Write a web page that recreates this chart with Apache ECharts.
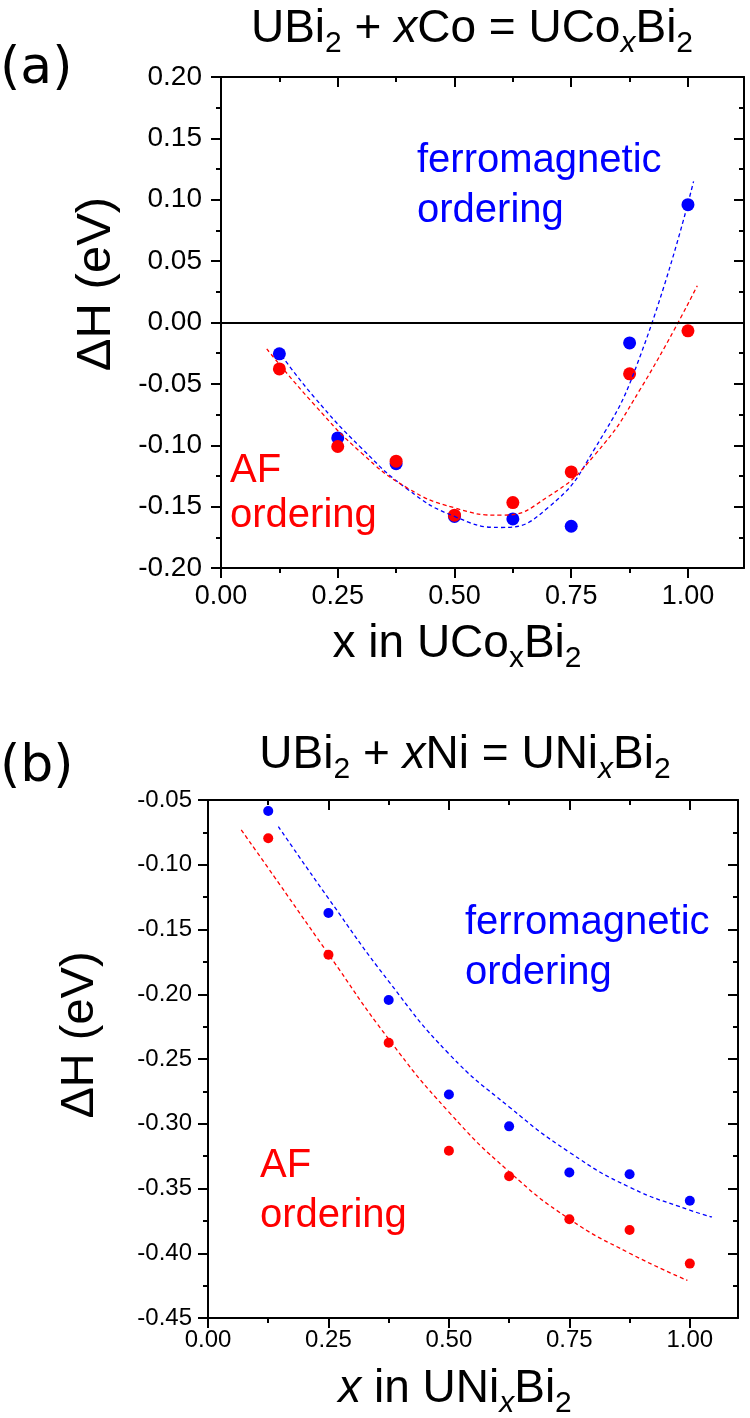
<!DOCTYPE html>
<html>
<head>
<meta charset="utf-8">
<script src="https://cdn.jsdelivr.net/npm/echarts@6/dist/echarts.min.js"></script>
<style>
html, body { margin: 0; padding: 0; background: #fff; }
#main { width: 750px; height: 1418px; }
</style>
</head>
<body>
<div id="main"></div>
<script>
// composition x of the computed points
var xValues = [0.125, 0.25, 0.375, 0.5, 0.625, 0.75, 0.875, 1.0];

// (a) UCoxBi2, formation enthalpy in eV
var coFerro = [-0.0255, -0.094, -0.115, -0.158, -0.160, -0.166, -0.0166, 0.096];
var coAF = [-0.0378, -0.101, -0.113, -0.157, -0.1467, -0.1217, -0.0418, -0.0068];

// (b) UNixBi2
var niFerro = [-0.0585, -0.1372, -0.2044, -0.2774, -0.302, -0.3377, -0.339, -0.3595];
var niAF = [-0.0795, -0.1695, -0.2374, -0.3208, -0.3405, -0.3738, -0.382, -0.408];

// dashed fit curves
var coFerroFitX = [0.13, 0.2, 0.3, 0.4, 0.5, 0.6, 0.7, 0.8, 0.9, 1.012];
var coFerroFitY = [-0.027, -0.061, -0.102, -0.136, -0.158, -0.167, -0.151, -0.103, -0.025, 0.115];
var coAFFitX = [0.098, 0.2, 0.3, 0.4, 0.5, 0.6, 0.7, 0.8, 0.9, 1.02];
var coAFFitY = [-0.0215, -0.067, -0.106, -0.135, -0.151, -0.157, -0.142, -0.108, -0.053, 0.030];
var niFerroFitX = [0.146, 0.25, 0.375, 0.5, 0.625, 0.75, 0.875, 1.0, 1.046];
var niFerroFitY = [-0.0705, -0.126, -0.19, -0.246, -0.287, -0.322, -0.349, -0.3667, -0.372];
var niAFFitX = [0.069, 0.125, 0.25, 0.375, 0.5, 0.625, 0.75, 0.875, 0.995];
var niAFFitY = [-0.0731, -0.1026, -0.169, -0.2346, -0.291, -0.337, -0.3736, -0.400, -0.421];

// ticks
var xMajorTicks = [0, 0.25, 0.5, 0.75, 1.0];
var xMinorTicks = [0.125, 0.375, 0.625, 0.875];
var coYRange = [-0.20, 0.20];
var niYRange = [-0.45, -0.05];
var yStep = 0.05;
var coXMax = 1.12;
var niXMax = 1.1;
var zeroLine = 0;

var FONT = 'Liberation Sans, Arial, sans-serif';
var BLUE = '#0000ff';
var RED = '#ff0000';

function zip(xs, ys) {
    var out = [];
    for (var i = 0; i < xs.length; i++) out.push([xs[i], ys[i]]);
    return out;
}
function fmt(v) { return v.toFixed(2); }

var lineBlack = {color: '#000', width: 2};

function xAxes(gi, max, fontSize, margin) {
    var base = {gridIndex: gi, type: 'value', min: 0, max: max, splitLine: {show: false}};
    return [
        Object.assign({}, base, {
            position: 'bottom',
            axisLine: {onZero: false, lineStyle: lineBlack},
            axisTick: {customValues: xMajorTicks, length: 10, lineStyle: lineBlack},
            axisLabel: {customValues: xMajorTicks, formatter: fmt, color: '#000',
                fontSize: fontSize, fontFamily: FONT, margin: margin}
        }),
        Object.assign({}, base, {
            position: 'bottom',
            axisLine: {show: false, onZero: false},
            axisTick: {customValues: xMinorTicks, length: 5, lineStyle: lineBlack},
            axisLabel: {show: false}
        }),
        Object.assign({}, base, {
            position: 'top',
            axisLine: {onZero: false, lineStyle: lineBlack},
            axisTick: {customValues: xMajorTicks, inside: true, length: 10, lineStyle: lineBlack},
            axisLabel: {show: false}
        }),
        Object.assign({}, base, {
            position: 'top',
            axisLine: {show: false, onZero: false},
            axisTick: {customValues: xMinorTicks, inside: true, length: 5, lineStyle: lineBlack},
            axisLabel: {show: false}
        })
    ];
}

function yAxes(gi, range, fontSize, margin) {
    var base = {gridIndex: gi, type: 'value', min: range[0], max: range[1], interval: yStep,
        splitLine: {show: false}};
    return [
        Object.assign({}, base, {
            position: 'left',
            axisLine: {show: true, onZero: false, lineStyle: lineBlack},
            axisTick: {length: 10, lineStyle: lineBlack},
            minorTick: {show: true, splitNumber: 2, length: 5, lineStyle: lineBlack},
            axisLabel: {formatter: fmt, color: '#000', fontSize: fontSize, fontFamily: FONT, margin: margin}
        }),
        Object.assign({}, base, {
            position: 'right',
            axisLine: {show: true, onZero: false, lineStyle: lineBlack},
            axisTick: {inside: true, length: 10, lineStyle: lineBlack},
            minorTick: {show: true, splitNumber: 2, length: 5, lineStyle: lineBlack},
            axisLabel: {show: false}
        })
    ];
}

function dots(name, xi, yi, data, color, size) {
    return {name: name, type: 'scatter', xAxisIndex: xi, yAxisIndex: yi, data: data,
        symbolSize: size, itemStyle: {color: color, opacity: 1}, z: 3};
}
function fit(name, xi, yi, data, color) {
    return {name: name, type: 'line', xAxisIndex: xi, yAxisIndex: yi, data: data,
        smooth: true, showSymbol: false, symbol: 'none', z: 4,
        lineStyle: {color: color, width: 1.3, type: [4, 3]}};
}

var sub = function (italic) {
    return {fontSize: 30, fontFamily: FONT, fontStyle: italic ? 'italic' : 'normal',
        lineHeight: 26, padding: [30, 0, 0, 0], fill: '#000'};
};
var richBig = {
    n: {fontSize: 46, fontFamily: FONT, lineHeight: 56, fill: '#000'},
    i: {fontSize: 46, fontFamily: FONT, fontStyle: 'italic', lineHeight: 56, fill: '#000'},
    s: sub(false),
    si: sub(true)
};

function richText(x, y, text) {
    return {type: 'text', x: x, y: y, z: 10,
        style: {text: text, rich: richBig, textAlign: 'center', textVerticalAlign: 'middle'}};
}
function plainText(x, y, text, size, color, align, family) {
    return {type: 'text', x: x, y: y, z: 10,
        style: {text: text, fill: color, fontSize: size, fontFamily: family || FONT,
            textAlign: align, textVerticalAlign: 'middle'}};
}

var cX = xAxes(0, coXMax, 27, 15);
var nX = xAxes(1, niXMax, 24, 10);
var cY = yAxes(0, coYRange, 28, 19);
var nY = yAxes(1, niYRange, 24, 16);

var coFerroSeries = dots('ferro Co', 0, 0, zip(xValues, coFerro), BLUE, 13);
coFerroSeries.markLine = {
    silent: true, symbol: 'none', label: {show: false}, animation: false,
    lineStyle: {color: '#000', type: 'solid', width: 2},
    data: [{yAxis: zeroLine}]
};

var option = {
    animation: false,
    backgroundColor: '#fff',
    grid: [
        {left: 221, top: 77, width: 523, height: 491},
        {left: 208, top: 800, width: 530, height: 518}
    ],
    xAxis: cX.concat(nX),
    yAxis: cY.concat(nY),
    series: [
        coFerroSeries,
        dots('AF Co', 0, 0, zip(xValues, coAF), RED, 13),
        fit('ferro Co fit', 0, 0, zip(coFerroFitX, coFerroFitY), BLUE),
        fit('AF Co fit', 0, 0, zip(coAFFitX, coAFFitY), RED),
        dots('ferro Ni', 4, 2, zip(xValues, niFerro), BLUE, 10),
        dots('AF Ni', 4, 2, zip(xValues, niAF), RED, 10),
        fit('ferro Ni fit', 4, 2, zip(niFerroFitX, niFerroFitY), BLUE),
        fit('AF Ni fit', 4, 2, zip(niAFFitX, niAFFitY), RED)
    ],
    graphic: [
        plainText(0, 69, '(a)', 52, '#000', 'left', 'DejaVu Sans'),
        plainText(0, 767, '(b)', 52, '#000', 'left', 'DejaVu Sans'),
        richText(472, 29, '{n|UBi}{s|2}{n| + }{i|x}{n|Co = UCo}{si|x}{n|Bi}{s|2}'),
        richText(465, 755, '{n|UBi}{s|2}{n| + }{i|x}{n|Ni = UNi}{si|x}{n|Bi}{s|2}'),
        richText(457, 644, '{n|x in UCo}{s|x}{n|Bi}{s|2}'),
        richText(455, 1389, '{i|x}{n| in UNi}{si|x}{n|Bi}{s|2}'),
        Object.assign(plainText(96, 284, 'ΔH (eV)', 49, '#000', 'center'), {rotation: Math.PI / 2}),
        Object.assign(plainText(80, 1035, 'ΔH (eV)', 47, '#000', 'center'), {rotation: Math.PI / 2}),
        plainText(417, 161, 'ferromagnetic', 40, BLUE, 'left'),
        plainText(417, 211, 'ordering', 40, BLUE, 'left'),
        plainText(230, 471, 'AF', 40, RED, 'left'),
        plainText(230, 516, 'ordering', 40, RED, 'left'),
        plainText(465, 923, 'ferromagnetic', 40, BLUE, 'left'),
        plainText(465, 973, 'ordering', 40, BLUE, 'left'),
        plainText(260, 1166, 'AF', 40, RED, 'left'),
        plainText(260, 1216, 'ordering', 40, RED, 'left')
    ]
};

var myChart = echarts.init(document.getElementById('main'));
myChart.setOption(option);
</script>
</body>
</html>
